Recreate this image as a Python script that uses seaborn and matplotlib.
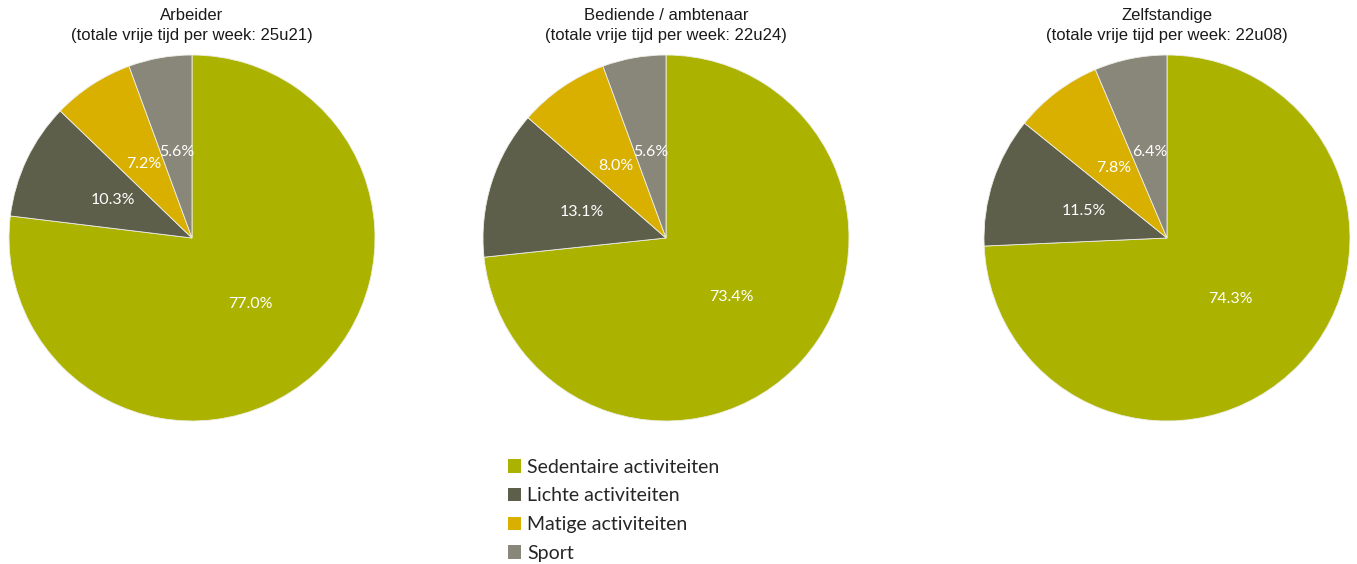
import matplotlib
matplotlib.use("Agg")
import matplotlib.pyplot as plt
import seaborn as sns
from matplotlib.patches import Patch

# data
groups = ["Arbeider", "Bediende / ambtenaar", "Zelfstandige"]
totals = ["25u21", "22u24", "22u08"]
categories = ["Sedentaire activiteiten", "Lichte activiteiten", "Matige activiteiten", "Sport"]
arbeider = [77.0, 10.3, 7.2, 5.6]
bediende = [73.4, 13.1, 8.0, 5.6]
zelfstandige = [74.3, 11.5, 7.8, 6.4]
colors = ["#abb300", "#5e5f4a", "#d9b000", "#888779"]

sns.set_theme(style="white")
plt.rcParams["font.family"] = ["Liberation Sans", "DejaVu Sans"]
palette = sns.color_palette(colors)

W, H = 1357, 564
fig = plt.figure(figsize=(W / 100, H / 100), dpi=100)

centers_x = [192, 666, 1167]
cy = 326
r = 183
series = [arbeider, bediende, zelfstandige]

for cx, name, tot, vals in zip(centers_x, groups, totals, series):
    ax = fig.add_axes([(cx - r) / W, (cy - r) / H, 2 * r / W, 2 * r / H])
    labels = iter([f"{v:.1f}%" for v in vals])
    wedges, texts, autotexts = ax.pie(
        vals, colors=palette, startangle=90, counterclock=False,
        autopct=lambda p: next(labels), pctdistance=0.48,
        wedgeprops=dict(edgecolor="#eeeee6", linewidth=0.6),
        textprops=dict(color="white", fontsize=11.5, family=["Lato", "DejaVu Sans"]),
    )
    ax.set_xlim(-1, 1)
    ax.set_ylim(-1, 1)
    ax.set_aspect("equal")
    ax.set_title(f"{name}\n(totale vrije tijd per week: {tot})", fontsize=12,
                 color="#1a1a1a", pad=11, linespacing=1.4)

handles = [Patch(facecolor=c, edgecolor="none") for c in palette]
fig.legend(handles, categories, loc="upper left", bbox_to_anchor=(500 / W, 1 - 451 / H),
           frameon=False, prop=dict(family=["Lato", "DejaVu Sans"], size=14),
           handlelength=0.7, handleheight=0.7, handletextpad=0.3, labelspacing=0.6,
           borderaxespad=0)

fig.savefig("out.png", dpi=100, facecolor="white")
